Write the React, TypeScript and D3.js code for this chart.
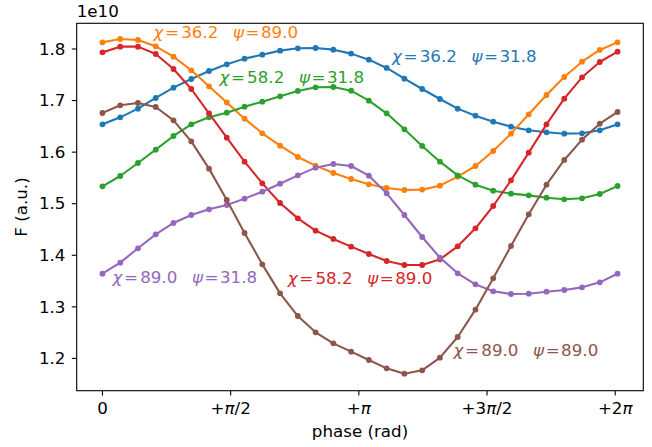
import React from "react";
import * as d3 from "d3";

// Flux (in units of 1e10) sampled at 30 evenly spaced phases
const PHASE_STEP = 0.21765;
const phases = d3.range(30).map((i) => i * PHASE_STEP);

const chi36psi32 = [1.6539, 1.6675, 1.6843, 1.705, 1.725, 1.7418, 1.7573, 1.7703, 1.7813, 1.789, 1.7968, 1.8013, 1.8019, 1.7987, 1.791, 1.7793, 1.7632, 1.7425, 1.7224, 1.703, 1.6843, 1.6707, 1.6591, 1.6494, 1.6423, 1.6384, 1.6358, 1.6365, 1.6423, 1.6539];
const chi36psi89 = [1.8129, 1.8194, 1.8175, 1.8052, 1.7851, 1.7586, 1.7276, 1.6962, 1.6649, 1.6365, 1.6125, 1.5906, 1.5738, 1.5595, 1.5479, 1.5376, 1.5305, 1.5266, 1.5273, 1.535, 1.5524, 1.5731, 1.6022, 1.6358, 1.6733, 1.7108, 1.7457, 1.7754, 1.7981, 1.8129];
const chi58psi32 = [1.5337, 1.5537, 1.5789, 1.6048, 1.6313, 1.6539, 1.6675, 1.6765, 1.6882, 1.6979, 1.7082, 1.7186, 1.7257, 1.7263, 1.7192, 1.6998, 1.6752, 1.6442, 1.6119, 1.5815, 1.555, 1.5369, 1.5253, 1.5195, 1.5162, 1.5117, 1.5085, 1.5104, 1.5188, 1.5343];
const chi58psi89 = [1.7935, 1.8045, 1.8045, 1.7903, 1.7612, 1.7224, 1.6752, 1.6281, 1.5815, 1.5395, 1.5014, 1.4716, 1.4477, 1.4316, 1.4167, 1.4025, 1.3889, 1.3811, 1.3811, 1.3921, 1.4173, 1.4522, 1.4955, 1.5453, 1.599, 1.6539, 1.7037, 1.7451, 1.7748, 1.7948];
const chi89psi32 = [1.3643, 1.3857, 1.4135, 1.4406, 1.4626, 1.4781, 1.4891, 1.4975, 1.5098, 1.5233, 1.5388, 1.555, 1.5699, 1.577, 1.5731, 1.5544, 1.5201, 1.4781, 1.4354, 1.3954, 1.365, 1.3436, 1.3301, 1.3249, 1.3255, 1.3294, 1.3327, 1.3378, 1.3475, 1.3643];
const chi89psi89 = [1.6759, 1.6908, 1.6953, 1.6875, 1.6617, 1.6209, 1.568, 1.5072, 1.4432, 1.3824, 1.3262, 1.2822, 1.2506, 1.2292, 1.2131, 1.1969, 1.1808, 1.1704, 1.1769, 1.2014, 1.2415, 1.2945, 1.3553, 1.418, 1.4794, 1.5369, 1.5848, 1.6242, 1.6552, 1.6778];

const chiValues = ["36.2", "36.2", "58.2", "58.2", "89.0", "89.0"];
const psiValues = ["31.8", "89.0", "31.8", "89.0", "31.8", "89.0"];
const seriesValues = [chi36psi32, chi36psi89, chi58psi32, chi58psi89, chi89psi32, chi89psi89];
const colors = ["#1f77b4", "#ff7f0e", "#2ca02c", "#d62728", "#9467bd", "#8c564b"];

// Annotation anchors (left edge, baseline) in data coordinates
const labelPhase = [3.548, 0.625, 1.433, 2.27, 0.1225, 4.303];
const labelFlux = [1.7738, 1.8213, 1.7341, 1.3443, 1.3472, 1.2047];

const xTickValues = [0, Math.PI / 2, Math.PI, (3 * Math.PI) / 2, 2 * Math.PI];
const xTickLabels = ["0", "+π/2", "+π", "+3π/2", "+2π"];
const yTickValues = [1.2, 1.3, 1.4, 1.5, 1.6, 1.7, 1.8];

const W = 652;
const H = 447;
const plot = { left: 76.7, right: 643.3, top: 23.3, bottom: 390.7 };
const FONT = "'DejaVu Sans', sans-serif";
const FS = 16.7;
// horizontal offsets of the pieces of a "χ = a  ψ = b" label
const PART_DX = [0, 11.5, 27.7, 79.5, 92.1, 107.5];

function italicPi(label: string) {
  const parts = label.split("π");
  const out: React.ReactNode[] = [];
  parts.forEach((p, i) => {
    if (p) out.push(<tspan key={"p" + i}>{p}</tspan>);
    if (i < parts.length - 1)
      out.push(
        <tspan key={"pi" + i} fontStyle="italic">
          π
        </tspan>
      );
  });
  return out;
}

export default function App() {
  const lastPhase = phases[phases.length - 1];
  const xMargin = lastPhase * 0.05;
  const x = d3
    .scaleLinear()
    .domain([-xMargin, lastPhase + xMargin])
    .range([plot.left, plot.right]);
  const y = d3.scaleLinear().domain([1.1374, 1.8498]).range([plot.bottom, plot.top]);

  const line = d3
    .line<number>()
    .x((_, i) => x(phases[i]))
    .y((d) => y(d));

  return (
    <svg
      width={W}
      height={H}
      style={{ position: "absolute", left: 0, top: 0, background: "#fff" }}
      fontFamily={FONT}
    >
      <rect x={0} y={0} width={W} height={H} fill="#fff" />
      {seriesValues.map((vals, s) => (
        <g key={s}>
          <path d={line(vals) || ""} fill="none" stroke={colors[s]} strokeWidth={2.08} strokeLinejoin="round" strokeLinecap="square" />
          {vals.map((v, i) => (
            <circle key={i} cx={x(phases[i])} cy={y(v)} r={2.9} fill={colors[s]} />
          ))}
        </g>
      ))}
      {seriesValues.map((_, s) => {
        const x0 = x(labelPhase[s]);
        const pieces = [
          { t: "χ", it: true },
          { t: "=", it: false },
          { t: chiValues[s], it: false },
          { t: "ψ", it: true },
          { t: "=", it: false },
          { t: psiValues[s], it: false },
        ];
        return (
          <text key={"lab" + s} y={y(labelFlux[s])} fill={colors[s]} fontSize={FS}>
            {pieces.map((p, k) => (
              <tspan key={k} x={x0 + PART_DX[k]} fontStyle={p.it ? "italic" : "normal"}>
                {p.t}
              </tspan>
            ))}
          </text>
        );
      })}
      {/* frame */}
      <rect
        x={plot.left}
        y={plot.top}
        width={plot.right - plot.left}
        height={plot.bottom - plot.top}
        fill="none"
        stroke="#000"
        strokeWidth={1.1}
      />
      {/* x axis */}
      {xTickValues.map((t, i) => (
        <g key={"xt" + i}>
          <line x1={x(t)} x2={x(t)} y1={plot.bottom} y2={plot.bottom + 4.9} stroke="#000" strokeWidth={1.1} />
          <text x={x(t)} y={414} textAnchor="middle" fontSize={FS} fill="#000">
            {italicPi(xTickLabels[i])}
          </text>
        </g>
      ))}
      {/* y axis */}
      {yTickValues.map((t, i) => (
        <g key={"yt" + i}>
          <line x1={plot.left - 4.9} x2={plot.left} y1={y(t)} y2={y(t)} stroke="#000" strokeWidth={1.1} />
          <text x={65.5} y={y(t) + 5.8} textAnchor="end" fontSize={FS} fill="#000">
            {t.toFixed(1)}
          </text>
        </g>
      ))}
      <text x={plot.left} y={16.7} fontSize={FS} fill="#000">
        1e10
      </text>
      <text x={(plot.left + plot.right) / 2} y={437} textAnchor="middle" fontSize={FS} fill="#000">
        phase (rad)
      </text>
      <text
        transform={`translate(27, ${(plot.top + plot.bottom) / 2}) rotate(-90)`}
        textAnchor="middle"
        fontSize={FS}
        fill="#000"
      >
        F (a.u.)
      </text>
    </svg>
  );
}
